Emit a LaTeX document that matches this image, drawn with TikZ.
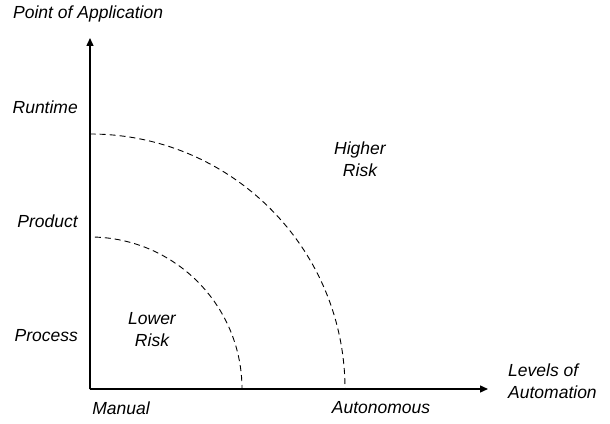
\documentclass[tikz,border=0pt]{standalone}
\usepackage{fontspec}
\setmainfont{Liberation Sans}
\usetikzlibrary{positioning, arrows.meta}

\begin{document}
\begin{tikzpicture}[x=1pt, y=1pt,
  lbl/.style={font=\itshape\fontsize{17.5}{22}\selectfont, inner sep=0pt, align=center},
  axis/.style={line width=1.4pt, -{Triangle[length=8pt, width=7pt]}},
  zone/.style={dash pattern=on 6pt off 4pt, line width=0.9pt}]
\useasboundingbox (-90,-34) rectangle (520,389);

% axes origin and ends
\coordinate (O) at (0,0);
\coordinate (ytop) at (0,351);
\coordinate (xend) at (398,0);

% risk zones
\draw[zone] (O) -- (152,0) arc (0:90:152) -- cycle;
\draw[zone] (O) -- (255,0) arc (0:90:255) -- cycle;

\draw[axis] (O) -- (ytop);
\draw[axis] (O) -- (xend);

% axis titles
\node[lbl, anchor=west] (poa) at (-77,375) {Point of Application};
\node[lbl, anchor=west, align=left] (loa) at (418,8) {Levels of\\Automation};

% ticks on the y axis
\node[lbl, anchor=east] (runtime) at (-12,282) {Runtime};
\node[lbl, anchor=east] (product) at (-12,168) {Product};
\node[lbl, anchor=east] (process) at (-12,53) {Process};

% ticks on the x axis
\node[lbl] (manual) at (31,-19) {Manual};
\node[lbl] (auto)   at (291,-19) {Autonomous};

% zone labels
\node[lbl] (high) at (270,230) {Higher\\Risk};
\node[lbl] (low)  at (62,59) {Lower\\Risk};
\end{tikzpicture}
\end{document}
